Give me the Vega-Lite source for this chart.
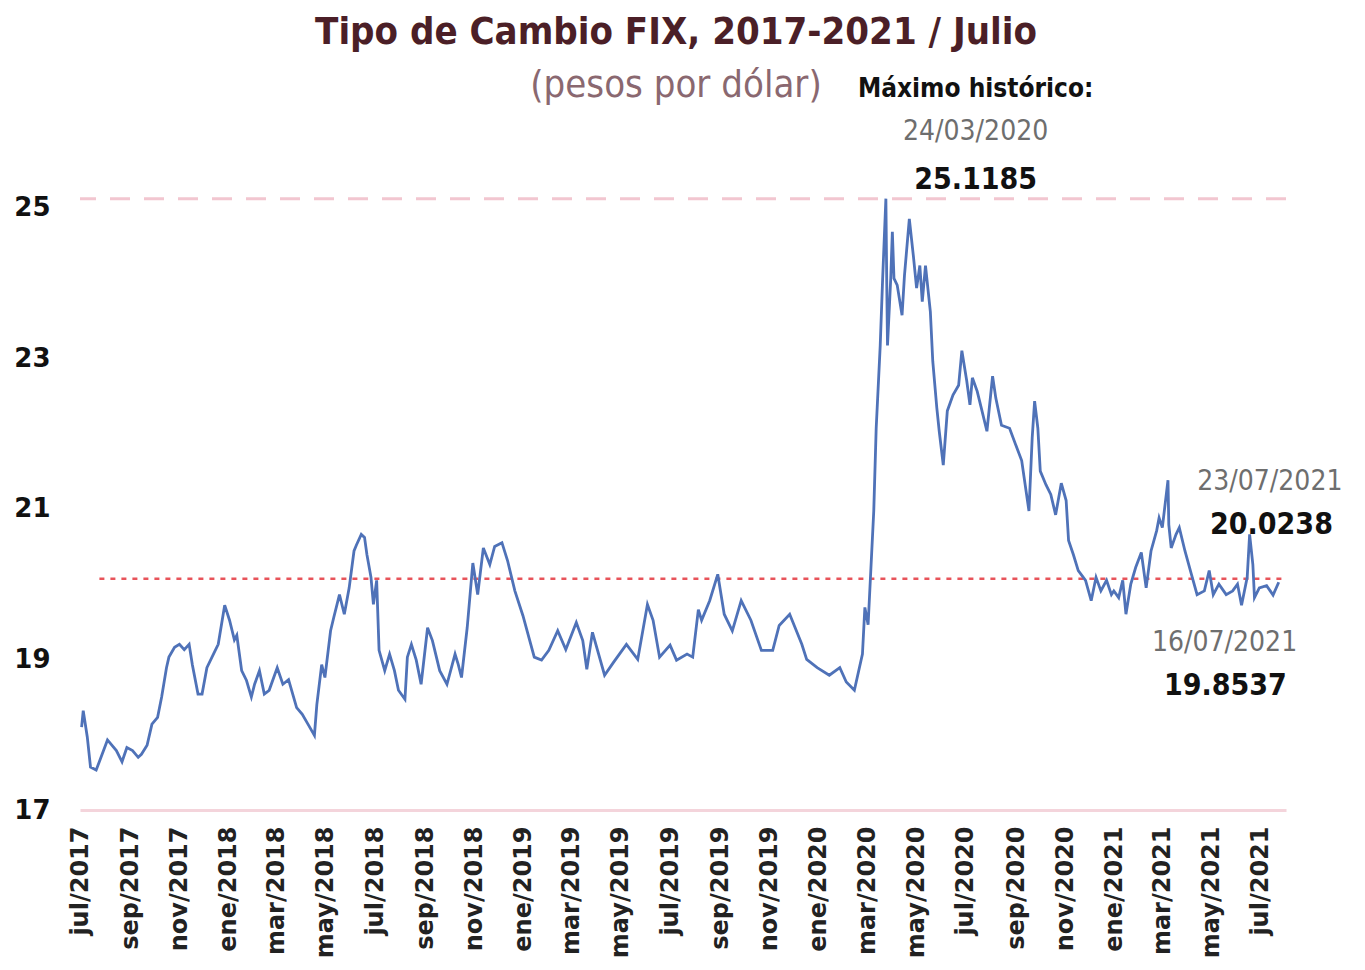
{
  "$schema": "https://vega.github.io/schema/vega-lite/v6.json",
  "width": 1206,
  "height": 625,
  "autosize": {"type": "none"},
  "padding": {"left": 80, "top": 185, "right": 79, "bottom": 160},
  "background": "white",
  "config": {"view": {"stroke": null}},
  "title": {
    "text": "Tipo de Cambio FIX, 2017-2021 / Julio",
    "subtitle": "(pesos por dólar)",
    "anchor": "middle",
    "frame": "group",
    "font": "DejaVu Sans Condensed, DejaVu Sans, sans-serif",
    "fontSize": 38,
    "fontWeight": "bold",
    "color": "#4b1f27",
    "subtitleFont": "DejaVu Sans Condensed, DejaVu Sans, sans-serif",
    "subtitleFontSize": 38,
    "subtitleColor": "#8a6870",
    "subtitlePadding": 15,
    "offset": -29,
    "dx": -7
  },
  "datasets": {
    "fix": [
      {"fecha": "2017-07-03", "tc": 18.10}, {"fecha": "2017-07-05", "tc": 18.32}, {"fecha": "2017-07-10", "tc": 17.97},
      {"fecha": "2017-07-14", "tc": 17.57}, {"fecha": "2017-07-21", "tc": 17.53}, {"fecha": "2017-07-27", "tc": 17.70},
      {"fecha": "2017-08-04", "tc": 17.93}, {"fecha": "2017-08-15", "tc": 17.79}, {"fecha": "2017-08-22", "tc": 17.64},
      {"fecha": "2017-08-28", "tc": 17.83}, {"fecha": "2017-09-04", "tc": 17.79}, {"fecha": "2017-09-11", "tc": 17.70},
      {"fecha": "2017-09-15", "tc": 17.74}, {"fecha": "2017-09-22", "tc": 17.86}, {"fecha": "2017-09-28", "tc": 18.14},
      {"fecha": "2017-10-05", "tc": 18.23}, {"fecha": "2017-10-10", "tc": 18.50}, {"fecha": "2017-10-16", "tc": 18.89},
      {"fecha": "2017-10-19", "tc": 19.03}, {"fecha": "2017-10-26", "tc": 19.16}, {"fecha": "2017-11-01", "tc": 19.20},
      {"fecha": "2017-11-07", "tc": 19.13}, {"fecha": "2017-11-13", "tc": 19.20}, {"fecha": "2017-11-17", "tc": 18.93},
      {"fecha": "2017-11-24", "tc": 18.54}, {"fecha": "2017-11-29", "tc": 18.54}, {"fecha": "2017-12-05", "tc": 18.89},
      {"fecha": "2017-12-14", "tc": 19.09}, {"fecha": "2017-12-19", "tc": 19.20}, {"fecha": "2017-12-27", "tc": 19.72},
      {"fecha": "2018-01-02", "tc": 19.52}, {"fecha": "2018-01-08", "tc": 19.26}, {"fecha": "2018-01-11", "tc": 19.32},
      {"fecha": "2018-01-17", "tc": 18.85}, {"fecha": "2018-01-23", "tc": 18.72}, {"fecha": "2018-01-29", "tc": 18.50},
      {"fecha": "2018-02-02", "tc": 18.67}, {"fecha": "2018-02-08", "tc": 18.85}, {"fecha": "2018-02-14", "tc": 18.54},
      {"fecha": "2018-02-20", "tc": 18.59}, {"fecha": "2018-03-02", "tc": 18.89}, {"fecha": "2018-03-09", "tc": 18.67},
      {"fecha": "2018-03-16", "tc": 18.73}, {"fecha": "2018-03-26", "tc": 18.36}, {"fecha": "2018-04-02", "tc": 18.27},
      {"fecha": "2018-04-09", "tc": 18.14}, {"fecha": "2018-04-17", "tc": 17.99}, {"fecha": "2018-04-20", "tc": 18.40},
      {"fecha": "2018-04-26", "tc": 18.93}, {"fecha": "2018-04-30", "tc": 18.76}, {"fecha": "2018-05-07", "tc": 19.38},
      {"fecha": "2018-05-11", "tc": 19.56}, {"fecha": "2018-05-18", "tc": 19.86}, {"fecha": "2018-05-24", "tc": 19.60},
      {"fecha": "2018-05-30", "tc": 19.95}, {"fecha": "2018-06-05", "tc": 20.44}, {"fecha": "2018-06-08", "tc": 20.52},
      {"fecha": "2018-06-14", "tc": 20.66}, {"fecha": "2018-06-18", "tc": 20.62}, {"fecha": "2018-06-21", "tc": 20.39},
      {"fecha": "2018-06-26", "tc": 20.09}, {"fecha": "2018-06-29", "tc": 19.73}, {"fecha": "2018-07-03", "tc": 20.05},
      {"fecha": "2018-07-06", "tc": 19.12}, {"fecha": "2018-07-13", "tc": 18.85}, {"fecha": "2018-07-19", "tc": 19.07},
      {"fecha": "2018-07-25", "tc": 18.85}, {"fecha": "2018-07-30", "tc": 18.59}, {"fecha": "2018-08-07", "tc": 18.47},
      {"fecha": "2018-08-10", "tc": 19.03}, {"fecha": "2018-08-15", "tc": 19.20}, {"fecha": "2018-08-21", "tc": 18.99},
      {"fecha": "2018-08-27", "tc": 18.67}, {"fecha": "2018-09-04", "tc": 19.42}, {"fecha": "2018-09-10", "tc": 19.25},
      {"fecha": "2018-09-19", "tc": 18.85}, {"fecha": "2018-09-28", "tc": 18.67}, {"fecha": "2018-10-08", "tc": 19.07},
      {"fecha": "2018-10-12", "tc": 18.93}, {"fecha": "2018-10-16", "tc": 18.76}, {"fecha": "2018-10-23", "tc": 19.42},
      {"fecha": "2018-10-30", "tc": 20.28}, {"fecha": "2018-11-05", "tc": 19.86}, {"fecha": "2018-11-12", "tc": 20.48},
      {"fecha": "2018-11-20", "tc": 20.26}, {"fecha": "2018-11-26", "tc": 20.50}, {"fecha": "2018-12-05", "tc": 20.55},
      {"fecha": "2018-12-12", "tc": 20.31}, {"fecha": "2018-12-21", "tc": 19.91}, {"fecha": "2018-12-31", "tc": 19.58},
      {"fecha": "2019-01-14", "tc": 19.03}, {"fecha": "2019-01-23", "tc": 18.99}, {"fecha": "2019-02-01", "tc": 19.12},
      {"fecha": "2019-02-12", "tc": 19.38}, {"fecha": "2019-02-22", "tc": 19.13}, {"fecha": "2019-03-07", "tc": 19.49},
      {"fecha": "2019-03-15", "tc": 19.25}, {"fecha": "2019-03-20", "tc": 18.87}, {"fecha": "2019-03-27", "tc": 19.36},
      {"fecha": "2019-04-11", "tc": 18.79}, {"fecha": "2019-04-22", "tc": 18.96}, {"fecha": "2019-05-08", "tc": 19.20},
      {"fecha": "2019-05-22", "tc": 19.00}, {"fecha": "2019-06-03", "tc": 19.73}, {"fecha": "2019-06-10", "tc": 19.52},
      {"fecha": "2019-06-18", "tc": 19.03}, {"fecha": "2019-07-01", "tc": 19.19}, {"fecha": "2019-07-09", "tc": 18.99},
      {"fecha": "2019-07-22", "tc": 19.07}, {"fecha": "2019-07-29", "tc": 19.03}, {"fecha": "2019-08-05", "tc": 19.66},
      {"fecha": "2019-08-09", "tc": 19.52}, {"fecha": "2019-08-19", "tc": 19.78}, {"fecha": "2019-08-29", "tc": 20.13},
      {"fecha": "2019-09-06", "tc": 19.60}, {"fecha": "2019-09-16", "tc": 19.38}, {"fecha": "2019-09-27", "tc": 19.78},
      {"fecha": "2019-10-09", "tc": 19.52}, {"fecha": "2019-10-22", "tc": 19.12}, {"fecha": "2019-11-05", "tc": 19.12},
      {"fecha": "2019-11-13", "tc": 19.45}, {"fecha": "2019-11-26", "tc": 19.60}, {"fecha": "2019-12-11", "tc": 19.20},
      {"fecha": "2019-12-17", "tc": 19.00}, {"fecha": "2019-12-30", "tc": 18.89}, {"fecha": "2020-01-14", "tc": 18.79},
      {"fecha": "2020-01-27", "tc": 18.89}, {"fecha": "2020-02-04", "tc": 18.70}, {"fecha": "2020-02-14", "tc": 18.59},
      {"fecha": "2020-02-24", "tc": 19.07}, {"fecha": "2020-02-27", "tc": 19.69}, {"fecha": "2020-03-02", "tc": 19.46},
      {"fecha": "2020-03-09", "tc": 20.97}, {"fecha": "2020-03-12", "tc": 22.07}, {"fecha": "2020-03-17", "tc": 23.17},
      {"fecha": "2020-03-20", "tc": 24.06}, {"fecha": "2020-03-24", "tc": 25.1185}, {"fecha": "2020-03-25", "tc": 24.06},
      {"fecha": "2020-03-26", "tc": 23.17}, {"fecha": "2020-03-30", "tc": 24.06}, {"fecha": "2020-04-01", "tc": 24.68},
      {"fecha": "2020-04-03", "tc": 24.06}, {"fecha": "2020-04-07", "tc": 23.97}, {"fecha": "2020-04-13", "tc": 23.57},
      {"fecha": "2020-04-16", "tc": 24.10}, {"fecha": "2020-04-22", "tc": 24.85}, {"fecha": "2020-04-27", "tc": 24.36},
      {"fecha": "2020-05-01", "tc": 23.93}, {"fecha": "2020-05-05", "tc": 24.23}, {"fecha": "2020-05-08", "tc": 23.75},
      {"fecha": "2020-05-12", "tc": 24.23}, {"fecha": "2020-05-18", "tc": 23.62}, {"fecha": "2020-05-21", "tc": 22.96},
      {"fecha": "2020-05-26", "tc": 22.34}, {"fecha": "2020-05-29", "tc": 22.03}, {"fecha": "2020-06-03", "tc": 21.58},
      {"fecha": "2020-06-08", "tc": 22.30}, {"fecha": "2020-06-15", "tc": 22.51}, {"fecha": "2020-06-22", "tc": 22.64},
      {"fecha": "2020-06-26", "tc": 23.10}, {"fecha": "2020-07-02", "tc": 22.70}, {"fecha": "2020-07-06", "tc": 22.38},
      {"fecha": "2020-07-09", "tc": 22.74}, {"fecha": "2020-07-15", "tc": 22.56}, {"fecha": "2020-07-20", "tc": 22.34},
      {"fecha": "2020-07-27", "tc": 22.03}, {"fecha": "2020-08-03", "tc": 22.76}, {"fecha": "2020-08-07", "tc": 22.47},
      {"fecha": "2020-08-14", "tc": 22.11}, {"fecha": "2020-08-24", "tc": 22.07}, {"fecha": "2020-09-02", "tc": 21.81},
      {"fecha": "2020-09-08", "tc": 21.64}, {"fecha": "2020-09-17", "tc": 20.97}, {"fecha": "2020-09-21", "tc": 21.94},
      {"fecha": "2020-09-24", "tc": 22.43}, {"fecha": "2020-09-28", "tc": 22.07}, {"fecha": "2020-10-01", "tc": 21.50},
      {"fecha": "2020-10-08", "tc": 21.32}, {"fecha": "2020-10-14", "tc": 21.19}, {"fecha": "2020-10-20", "tc": 20.92},
      {"fecha": "2020-10-27", "tc": 21.34}, {"fecha": "2020-11-02", "tc": 21.11}, {"fecha": "2020-11-05", "tc": 20.58},
      {"fecha": "2020-11-11", "tc": 20.39}, {"fecha": "2020-11-17", "tc": 20.18}, {"fecha": "2020-11-26", "tc": 20.05},
      {"fecha": "2020-12-03", "tc": 19.78}, {"fecha": "2020-12-09", "tc": 20.09}, {"fecha": "2020-12-15", "tc": 19.91},
      {"fecha": "2020-12-22", "tc": 20.05}, {"fecha": "2020-12-28", "tc": 19.86}, {"fecha": "2020-12-31", "tc": 19.91},
      {"fecha": "2021-01-06", "tc": 19.82}, {"fecha": "2021-01-11", "tc": 20.05}, {"fecha": "2021-01-15", "tc": 19.60},
      {"fecha": "2021-01-21", "tc": 20.00}, {"fecha": "2021-01-27", "tc": 20.22}, {"fecha": "2021-02-03", "tc": 20.42},
      {"fecha": "2021-02-09", "tc": 19.95}, {"fecha": "2021-02-15", "tc": 20.44}, {"fecha": "2021-02-22", "tc": 20.71},
      {"fecha": "2021-02-25", "tc": 20.88}, {"fecha": "2021-03-01", "tc": 20.75}, {"fecha": "2021-03-08", "tc": 21.38},
      {"fecha": "2021-03-09", "tc": 20.79}, {"fecha": "2021-03-12", "tc": 20.48}, {"fecha": "2021-03-18", "tc": 20.66},
      {"fecha": "2021-03-22", "tc": 20.75}, {"fecha": "2021-03-29", "tc": 20.44}, {"fecha": "2021-04-06", "tc": 20.13},
      {"fecha": "2021-04-13", "tc": 19.86}, {"fecha": "2021-04-22", "tc": 19.91}, {"fecha": "2021-04-28", "tc": 20.18},
      {"fecha": "2021-05-03", "tc": 19.86}, {"fecha": "2021-05-10", "tc": 20.00}, {"fecha": "2021-05-19", "tc": 19.86},
      {"fecha": "2021-05-27", "tc": 19.91}, {"fecha": "2021-06-02", "tc": 20.00}, {"fecha": "2021-06-07", "tc": 19.72},
      {"fecha": "2021-06-14", "tc": 20.09}, {"fecha": "2021-06-17", "tc": 20.66}, {"fecha": "2021-06-21", "tc": 20.26},
      {"fecha": "2021-06-23", "tc": 19.82}, {"fecha": "2021-06-29", "tc": 19.95}, {"fecha": "2021-07-08", "tc": 19.98},
      {"fecha": "2021-07-16", "tc": 19.8537}, {"fecha": "2021-07-23", "tc": 20.0238}
    ],
    "notas": [
      {"fecha": "2020-07-13", "tc": 26.57, "texto": "Máximo histórico:", "tipo": "encabezado"},
      {"fecha": "2020-07-13", "tc": 26.0, "texto": "24/03/2020", "tipo": "fecha"},
      {"fecha": "2020-07-13", "tc": 25.37, "texto": "25.1185", "tipo": "cifra"},
      {"fecha": "2021-07-12", "tc": 21.35, "texto": "23/07/2021", "tipo": "fecha"},
      {"fecha": "2021-07-14", "tc": 20.79, "texto": "20.0238", "tipo": "cifra"},
      {"fecha": "2021-05-17", "tc": 19.22, "texto": "16/07/2021", "tipo": "fecha"},
      {"fecha": "2021-05-18", "tc": 18.65, "texto": "19.8537", "tipo": "cifra"}
    ],
    "maximo": [{"tc": 25.1185}],
    "actual": [{"fecha": "2017-07-25", "hasta": "2021-07-31", "tc": 20.07}]
  },
  "layer": [
    {
      "data": {"name": "maximo"},
      "mark": {"type": "rule", "color": "#f2c6d0", "strokeWidth": 3, "strokeDash": [20, 14]},
      "encoding": {
        "y": {"field": "tc", "type": "quantitative", "title": null}
      }
    },
    {
      "data": {"name": "actual"},
      "mark": {"type": "rule", "color": "#e8545a", "strokeWidth": 2.5, "strokeDash": [5, 6]},
      "encoding": {
        "x": {"field": "fecha", "type": "temporal", "title": null},
        "x2": {"field": "hasta"},
        "y": {"field": "tc", "type": "quantitative", "title": null}
      }
    },
    {
      "data": {"name": "fix"},
      "mark": {"type": "line", "color": "#4f72b8", "strokeWidth": 2.8, "interpolate": "linear"},
      "encoding": {
        "x": {
          "field": "fecha", "type": "temporal", "title": null,
          "scale": {"type": "utc", "domain": [{"year": 2017, "month": 7, "date": 1, "utc": true}, {"year": 2021, "month": 8, "date": 1, "utc": true}]},
          "axis": {
            "values": [
              {"year": 2017, "month": 7, "date": 1, "utc": true}, {"year": 2017, "month": 9, "date": 1, "utc": true},
              {"year": 2017, "month": 11, "date": 1, "utc": true}, {"year": 2018, "month": 1, "date": 1, "utc": true},
              {"year": 2018, "month": 3, "date": 1, "utc": true}, {"year": 2018, "month": 5, "date": 1, "utc": true},
              {"year": 2018, "month": 7, "date": 1, "utc": true}, {"year": 2018, "month": 9, "date": 1, "utc": true},
              {"year": 2018, "month": 11, "date": 1, "utc": true}, {"year": 2019, "month": 1, "date": 1, "utc": true},
              {"year": 2019, "month": 3, "date": 1, "utc": true}, {"year": 2019, "month": 5, "date": 1, "utc": true},
              {"year": 2019, "month": 7, "date": 1, "utc": true}, {"year": 2019, "month": 9, "date": 1, "utc": true},
              {"year": 2019, "month": 11, "date": 1, "utc": true}, {"year": 2020, "month": 1, "date": 1, "utc": true},
              {"year": 2020, "month": 3, "date": 1, "utc": true}, {"year": 2020, "month": 5, "date": 1, "utc": true},
              {"year": 2020, "month": 7, "date": 1, "utc": true}, {"year": 2020, "month": 9, "date": 1, "utc": true},
              {"year": 2020, "month": 11, "date": 1, "utc": true}, {"year": 2021, "month": 1, "date": 1, "utc": true},
              {"year": 2021, "month": 3, "date": 1, "utc": true}, {"year": 2021, "month": 5, "date": 1, "utc": true},
              {"year": 2021, "month": 7, "date": 1, "utc": true}
            ],
            "labelExpr": "['ene','feb','mar','abr','may','jun','jul','ago','sep','oct','nov','dic'][utcmonth(datum.value)] + '/' + utcyear(datum.value)",
            "labelAngle": -90,
            "ticks": false,
            "grid": false,
            "domainColor": "#f4d4db",
            "domainWidth": 3,
            "labelFont": "DejaVu Sans",
            "labelFontWeight": "bold",
            "labelFontSize": 24,
            "labelColor": "#222222",
            "labelPadding": 16,
            "labelOverlap": false,
            "labelBound": false,
            "labelFlush": false
          }
        },
        "y": {
          "field": "tc", "type": "quantitative", "title": null,
          "scale": {"domain": [17, 25.3], "nice": false, "zero": false},
          "axis": {
            "values": [17, 19, 21, 23, 25],
            "format": "d",
            "ticks": false,
            "domain": false,
            "grid": false,
            "labelFont": "DejaVu Sans",
            "labelFontWeight": "bold",
            "labelFontSize": 26,
            "labelColor": "#111111",
            "labelPadding": 30
          }
        }
      }
    },
    {
      "data": {"name": "notas"},
      "transform": [{"filter": "datum.tipo === 'encabezado'"}],
      "mark": {"type": "text", "font": "DejaVu Sans Condensed, DejaVu Sans, sans-serif", "fontWeight": "bold", "fontSize": 26, "color": "#111111", "align": "center", "baseline": "middle"},
      "encoding": {
        "x": {"field": "fecha", "type": "temporal", "title": null},
        "y": {"field": "tc", "type": "quantitative", "title": null},
        "text": {"field": "texto"}
      }
    },
    {
      "data": {"name": "notas"},
      "transform": [{"filter": "datum.tipo === 'fecha'"}],
      "mark": {"type": "text", "font": "DejaVu Sans Condensed, DejaVu Sans, sans-serif", "fontSize": 28, "color": "#6e6e6e", "align": "center", "baseline": "middle"},
      "encoding": {
        "x": {"field": "fecha", "type": "temporal", "title": null},
        "y": {"field": "tc", "type": "quantitative", "title": null},
        "text": {"field": "texto"}
      }
    },
    {
      "data": {"name": "notas"},
      "transform": [{"filter": "datum.tipo === 'cifra'"}],
      "mark": {"type": "text", "font": "DejaVu Sans Condensed, DejaVu Sans, sans-serif", "fontWeight": "bold", "fontSize": 30, "color": "#111111", "align": "center", "baseline": "middle"},
      "encoding": {
        "x": {"field": "fecha", "type": "temporal", "title": null},
        "y": {"field": "tc", "type": "quantitative", "title": null},
        "text": {"field": "texto"}
      }
    }
  ]
}
